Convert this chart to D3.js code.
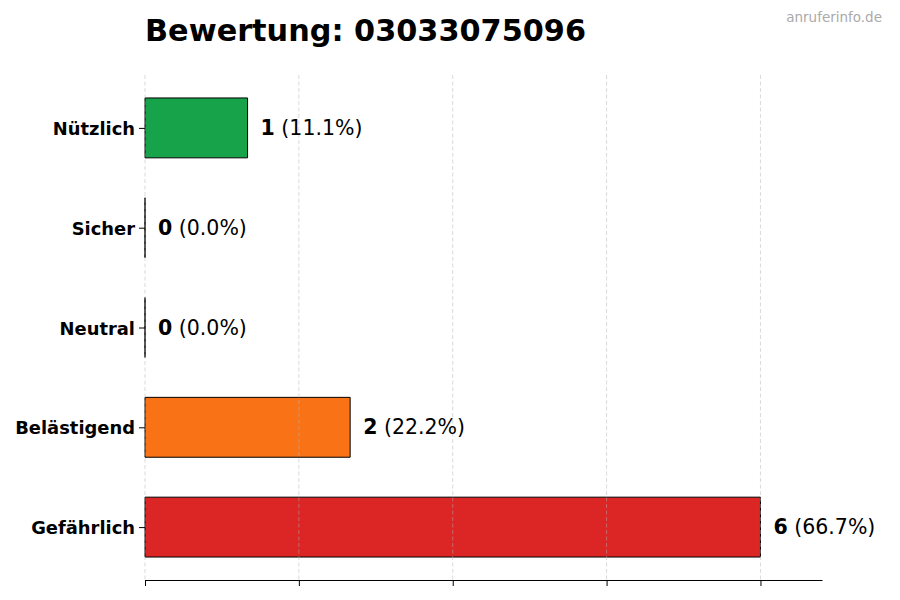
<!DOCTYPE html>
<html>
<head>
<meta charset="utf-8">
<script src="https://cdn.jsdelivr.net/npm/d3@7"></script>
<style>
  body { margin: 0; background: #fff; }
  svg { display: block; font-family: "DejaVu Sans", sans-serif; }
</style>
</head>
<body>
<svg id="chart" width="900" height="600"></svg>
<script>
// Data (bottom to top)
const categories = ["Gefährlich", "Belästigend", "Neutral", "Sicher", "Nützlich"];
const counts = [6, 2, 0, 0, 1];
const percents = ["66.7%", "22.2%", "0.0%", "0.0%", "11.1%"];
const colors = ["#dc2626", "#f97316", "#6b7280", "#3b82f6", "#16a34a"];
const xTicks = [0, 1.5, 3, 4.5, 6];
const titleText = "Bewertung: 03033075096";
const watermark = "anruferinfo.de";

(function () {
const svg = d3.select("#chart");
const mLeft = 145, mRight = 822, mTop = 75, mBottom = 580;
const x = d3.scaleLinear().domain([0, 6.6]).range([mLeft, mRight]);
const y = d3.scaleLinear().domain([-0.53, 4.53]).range([mBottom, mTop]);

// Bars (paths so zero-width bars still show their edge)
svg.append("g").selectAll("path")
  .data(counts)
  .join("path")
  .attr("d", (d, i) => {
    const y0 = y(i + 0.3), y1 = y(i - 0.3), x0 = x(0), x1 = x(d);
    return `M${x0},${y0}H${x1}V${y1}H${x0}Z`;
  })
  .attr("fill", (d, i) => colors[i])
  .attr("stroke", "#000")
  .attr("stroke-width", 1);

// Gridlines (on top)
svg.append("g").selectAll("line")
  .data(xTicks)
  .join("line")
  .attr("x1", d => x(d)).attr("x2", d => x(d))
  .attr("y1", mTop).attr("y2", mBottom)
  .attr("stroke", "#b0b0b0")
  .attr("stroke-opacity", 0.6)
  .attr("stroke-dasharray", "4,2.5")
  .attr("stroke-width", 0.8);

// X axis (no labels)
const xAxis = svg.append("g")
  .attr("transform", `translate(0,${mBottom})`)
  .call(d3.axisBottom(x).tickValues(xTicks).tickFormat("").tickSize(6).tickSizeOuter(0));
xAxis.select(".domain").attr("stroke", "#000").attr("stroke-width", 1.2);
xAxis.selectAll(".tick line").attr("stroke", "#000");

// Y axis ticks and labels
const yAxis = svg.append("g")
  .attr("transform", `translate(${mLeft},0)`)
  .call(d3.axisLeft(y).tickValues(d3.range(categories.length)).tickFormat(i => categories[i]).tickSize(6));
yAxis.select(".domain").remove();
yAxis.selectAll(".tick line").attr("stroke", "#000").attr("stroke-width", 1);
yAxis.selectAll(".tick text")
  .attr("font-family", "DejaVu Sans")
  .attr("font-size", 17.9)
  .attr("font-weight", "bold")
  .attr("fill", "#000")
  .attr("x", -10)
  .attr("dy", "0.37em");

// Value labels
const vl = svg.append("g").selectAll("text")
  .data(counts)
  .join("text")
  .attr("x", d => x(d) + 13)
  .attr("y", (d, i) => y(i))
  .attr("dy", "0.35em")
  .attr("font-size", 20.5)
  .attr("fill", "#000");
vl.append("tspan").attr("font-weight", "bold").text(d => d);
vl.append("tspan").text((d, i) => " (" + percents[i] + ")");

// Title
svg.append("text")
  .attr("x", 145).attr("y", 41)
  .attr("font-size", 30.3)
  .attr("font-weight", "bold")
  .attr("fill", "#000")
  .text(titleText);

// Watermark
svg.append("text")
  .attr("x", 882).attr("y", 22)
  .attr("text-anchor", "end")
  .attr("font-size", 13.5)
  .attr("fill", "#aaaaaa")
  .text(watermark);
})();
</script>
</body>
</html>
